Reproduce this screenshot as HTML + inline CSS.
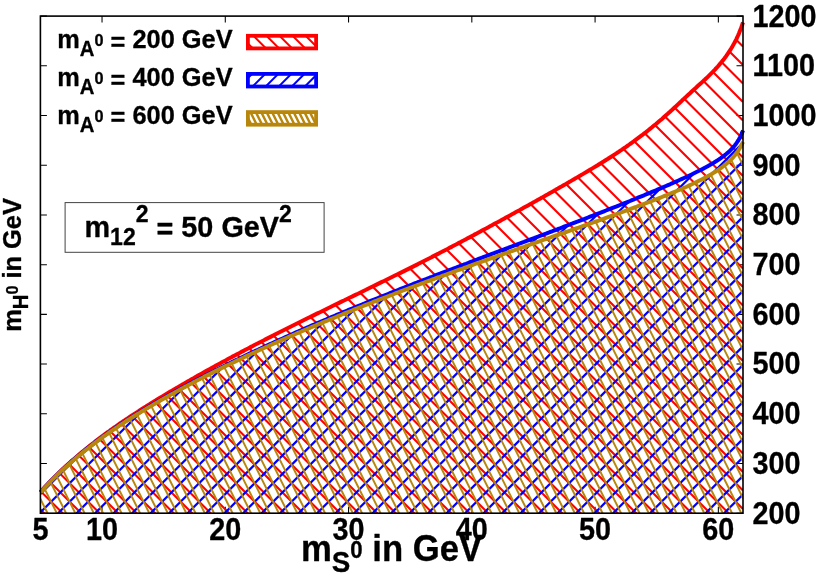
<!DOCTYPE html>
<html><head><meta charset="utf-8"><title>plot</title>
<style>
html,body{margin:0;padding:0;background:#fff;}
svg{display:block}
text{font-family:"Liberation Sans",sans-serif;font-weight:bold;fill:#000;stroke:#000;stroke-width:0.3px;stroke-linejoin:round}
</style></head><body>
<svg width="830" height="581" viewBox="0 0 830 581" style="will-change:transform">
<rect width="830" height="581" fill="#fff"/>
<defs>
<clipPath id="cred"><path d="M40.4,492.1 L42.0,490.3 L44.0,488.1 L46.0,485.9 L48.0,483.8 L50.0,481.7 L52.0,479.6 L54.0,477.6 L56.0,475.6 L58.0,473.6 L60.0,471.7 L62.0,469.8 L64.0,467.9 L66.0,466.0 L68.0,464.2 L70.0,462.4 L72.0,460.6 L74.0,458.9 L76.0,457.2 L78.0,455.5 L80.0,453.8 L82.0,452.1 L84.0,450.5 L86.0,448.8 L88.0,447.2 L90.0,445.6 L92.0,444.0 L94.0,442.5 L96.0,440.9 L98.0,439.4 L100.0,437.9 L102.0,436.4 L104.0,434.9 L106.0,433.4 L108.0,432.0 L110.0,430.5 L112.0,429.1 L114.0,427.7 L116.0,426.3 L118.0,424.9 L120.0,423.5 L122.0,422.1 L124.0,420.8 L126.0,419.4 L128.0,418.1 L130.0,416.8 L132.0,415.5 L134.0,414.2 L136.0,412.9 L138.0,411.6 L140.0,410.3 L142.0,409.0 L144.0,407.7 L146.0,406.5 L148.0,405.2 L150.0,404.0 L152.0,402.7 L154.0,401.5 L156.0,400.3 L158.0,399.0 L160.0,397.8 L162.0,396.6 L164.0,395.4 L166.0,394.2 L168.0,393.0 L170.0,391.8 L172.0,390.6 L174.0,389.4 L176.0,388.3 L178.0,387.1 L180.0,385.9 L182.0,384.8 L184.0,383.6 L186.0,382.4 L188.0,381.3 L190.0,380.2 L192.0,379.0 L194.0,377.9 L196.0,376.7 L198.0,375.6 L200.0,374.5 L202.0,373.4 L204.0,372.2 L206.0,371.1 L208.0,370.0 L210.0,368.9 L212.0,367.8 L214.0,366.7 L216.0,365.6 L218.0,364.5 L220.0,363.4 L222.0,362.3 L224.0,361.2 L226.0,360.2 L228.0,359.1 L230.0,358.0 L232.0,356.9 L234.0,355.9 L236.0,354.8 L238.0,353.7 L240.0,352.7 L242.0,351.6 L244.0,350.6 L246.0,349.5 L248.0,348.5 L250.0,347.4 L252.0,346.4 L254.0,345.3 L256.0,344.3 L258.0,343.3 L260.0,342.2 L262.0,341.2 L264.0,340.2 L266.0,339.1 L268.0,338.1 L270.0,337.1 L272.0,336.1 L274.0,335.1 L276.0,334.0 L278.0,333.0 L280.0,332.0 L282.0,331.0 L284.0,330.0 L286.0,329.0 L288.0,328.0 L290.0,327.0 L292.0,326.0 L294.0,325.0 L296.0,324.0 L298.0,323.0 L300.0,322.0 L302.0,321.0 L304.0,320.0 L306.0,319.0 L308.0,318.0 L310.0,317.1 L312.0,316.1 L314.0,315.1 L316.0,314.1 L318.0,313.1 L320.0,312.2 L322.0,311.2 L324.0,310.2 L326.0,309.2 L328.0,308.2 L330.0,307.3 L332.0,306.3 L334.0,305.3 L336.0,304.3 L338.0,303.4 L340.0,302.4 L342.0,301.4 L344.0,300.5 L346.0,299.5 L348.0,298.5 L350.0,297.5 L352.0,296.6 L354.0,295.6 L356.0,294.6 L358.0,293.7 L360.0,292.7 L362.0,291.7 L364.0,290.7 L366.0,289.8 L368.0,288.8 L370.0,287.8 L372.0,286.8 L374.0,285.9 L376.0,284.9 L378.0,283.9 L380.0,282.9 L382.0,281.9 L384.0,281.0 L386.0,280.0 L388.0,279.0 L390.0,278.0 L392.0,277.0 L394.0,276.0 L396.0,275.0 L398.0,274.1 L400.0,273.1 L402.0,272.1 L404.0,271.1 L406.0,270.1 L408.0,269.1 L410.0,268.1 L412.0,267.1 L414.0,266.1 L416.0,265.1 L418.0,264.1 L420.0,263.0 L422.0,262.0 L424.0,261.0 L426.0,260.0 L428.0,259.0 L430.0,258.0 L432.0,256.9 L434.0,255.9 L436.0,254.9 L438.0,253.9 L440.0,252.8 L442.0,251.8 L444.0,250.7 L446.0,249.7 L448.0,248.7 L450.0,247.6 L452.0,246.6 L454.0,245.5 L456.0,244.5 L458.0,243.4 L460.0,242.4 L462.0,241.3 L464.0,240.3 L466.0,239.2 L468.0,238.1 L470.0,237.1 L472.0,236.0 L474.0,234.9 L476.0,233.9 L478.0,232.8 L480.0,231.7 L482.0,230.6 L484.0,229.5 L486.0,228.5 L488.0,227.4 L490.0,226.3 L492.0,225.2 L494.0,224.1 L496.0,223.0 L498.0,222.0 L500.0,220.9 L502.0,219.8 L504.0,218.7 L506.0,217.6 L508.0,216.5 L510.0,215.4 L512.0,214.3 L514.0,213.2 L516.0,212.1 L518.0,211.0 L520.0,209.9 L522.0,208.7 L524.0,207.6 L526.0,206.5 L528.0,205.4 L530.0,204.3 L532.0,203.2 L534.0,202.1 L536.0,200.9 L538.0,199.8 L540.0,198.7 L542.0,197.6 L544.0,196.4 L546.0,195.3 L548.0,194.2 L550.0,193.0 L552.0,191.9 L554.0,190.8 L556.0,189.6 L558.0,188.5 L560.0,187.3 L562.0,186.2 L564.0,185.0 L566.0,183.9 L568.0,182.7 L570.0,181.6 L572.0,180.4 L574.0,179.2 L576.0,178.1 L578.0,176.9 L580.0,175.7 L582.0,174.6 L584.0,173.4 L586.0,172.2 L588.0,171.0 L590.0,169.8 L592.0,168.6 L594.0,167.4 L596.0,166.2 L598.0,165.0 L600.0,163.7 L602.0,162.5 L604.0,161.3 L606.0,160.0 L608.0,158.8 L610.0,157.5 L612.0,156.2 L614.0,154.9 L616.0,153.6 L618.0,152.3 L620.0,150.9 L622.0,149.6 L624.0,148.2 L626.0,146.9 L628.0,145.5 L630.0,144.0 L632.0,142.6 L634.0,141.2 L636.0,139.7 L638.0,138.2 L640.0,136.7 L642.0,135.2 L644.0,133.6 L646.0,132.1 L648.0,130.5 L650.0,128.9 L652.0,127.3 L654.0,125.6 L656.0,124.0 L658.0,122.3 L660.0,120.6 L662.0,118.9 L664.0,117.1 L666.0,115.3 L668.0,113.6 L670.0,111.8 L672.0,109.9 L674.0,108.1 L676.0,106.3 L678.0,104.4 L680.0,102.5 L682.0,100.6 L684.0,98.8 L686.0,96.9 L688.0,95.0 L690.0,93.2 L692.0,91.3 L694.0,89.5 L696.0,87.7 L698.0,85.8 L700.0,84.0 L700.5,83.6 L701.0,83.1 L701.5,82.7 L702.0,82.2 L702.5,81.8 L703.0,81.3 L703.5,80.8 L704.0,80.4 L704.5,79.9 L705.0,79.5 L705.5,79.0 L706.0,78.5 L706.5,78.1 L707.0,77.6 L707.5,77.1 L708.0,76.7 L708.5,76.2 L709.0,75.7 L709.5,75.2 L710.0,74.7 L710.5,74.2 L711.0,73.7 L711.5,73.2 L712.0,72.7 L712.5,72.2 L713.0,71.7 L713.5,71.2 L714.0,70.6 L714.5,70.1 L715.0,69.6 L715.5,69.0 L716.0,68.5 L716.5,67.9 L717.0,67.4 L717.5,66.8 L718.0,66.3 L718.5,65.7 L719.0,65.1 L719.5,64.5 L720.0,63.9 L720.5,63.3 L721.0,62.7 L721.5,62.1 L722.0,61.5 L722.5,60.9 L723.0,60.3 L723.5,59.6 L724.0,59.0 L724.5,58.3 L725.0,57.6 L725.5,57.0 L726.0,56.3 L726.5,55.6 L727.0,54.9 L727.5,54.2 L728.0,53.4 L728.5,52.7 L729.0,51.9 L729.5,51.2 L730.0,50.4 L730.5,49.6 L731.0,48.8 L731.5,48.0 L732.0,47.1 L732.5,46.3 L733.0,45.4 L733.5,44.5 L734.0,43.6 L734.5,42.7 L735.0,41.8 L735.5,40.8 L736.0,39.8 L736.5,38.8 L737.0,37.7 L737.5,36.7 L738.0,35.6 L738.5,34.4 L739.0,33.3 L739.5,32.1 L740.0,30.8 L740.5,29.5 L741.0,28.2 L741.5,26.8 L742.0,25.4 L742.5,23.9 L743.0,22.4 L743.0,513.2 L40.4,513.2Z"/></clipPath>
<clipPath id="cblue"><path d="M40.4,492.3 L42.0,490.5 L44.0,488.3 L46.0,486.2 L48.0,484.0 L50.0,482.0 L52.0,479.9 L54.0,477.9 L56.0,475.9 L58.0,474.0 L60.0,472.0 L62.0,470.2 L64.0,468.3 L66.0,466.5 L68.0,464.7 L70.0,462.9 L72.0,461.1 L74.0,459.4 L76.0,457.7 L78.0,456.0 L80.0,454.4 L82.0,452.7 L84.0,451.1 L86.0,449.5 L88.0,447.9 L90.0,446.3 L92.0,444.8 L94.0,443.3 L96.0,441.7 L98.0,440.2 L100.0,438.8 L102.0,437.3 L104.0,435.9 L106.0,434.4 L108.0,433.0 L110.0,431.6 L112.0,430.2 L114.0,428.8 L116.0,427.5 L118.0,426.1 L120.0,424.8 L122.0,423.5 L124.0,422.1 L126.0,420.8 L128.0,419.6 L130.0,418.3 L132.0,417.0 L134.0,415.8 L136.0,414.5 L138.0,413.3 L140.0,412.0 L142.0,410.8 L144.0,409.6 L146.0,408.4 L148.0,407.2 L150.0,406.0 L152.0,404.8 L154.0,403.6 L156.0,402.5 L158.0,401.3 L160.0,400.2 L162.0,399.0 L164.0,397.9 L166.0,396.7 L168.0,395.6 L170.0,394.5 L172.0,393.3 L174.0,392.2 L176.0,391.1 L178.0,390.0 L180.0,388.9 L182.0,387.8 L184.0,386.7 L186.0,385.7 L188.0,384.6 L190.0,383.5 L192.0,382.4 L194.0,381.4 L196.0,380.3 L198.0,379.3 L200.0,378.2 L202.0,377.2 L204.0,376.2 L206.0,375.1 L208.0,374.1 L210.0,373.1 L212.0,372.1 L214.0,371.0 L216.0,370.0 L218.0,369.0 L220.0,368.0 L222.0,367.0 L224.0,366.0 L226.0,365.0 L228.0,364.0 L230.0,363.1 L232.0,362.1 L234.0,361.1 L236.0,360.1 L238.0,359.2 L240.0,358.2 L242.0,357.2 L244.0,356.3 L246.0,355.3 L248.0,354.4 L250.0,353.4 L252.0,352.5 L254.0,351.5 L256.0,350.6 L258.0,349.7 L260.0,348.7 L262.0,347.8 L264.0,346.9 L266.0,346.0 L268.0,345.0 L270.0,344.1 L272.0,343.2 L274.0,342.3 L276.0,341.4 L278.0,340.5 L280.0,339.6 L282.0,338.7 L284.0,337.8 L286.0,336.9 L288.0,336.0 L290.0,335.1 L292.0,334.2 L294.0,333.3 L296.0,332.4 L298.0,331.5 L300.0,330.7 L302.0,329.8 L304.0,328.9 L306.0,328.0 L308.0,327.2 L310.0,326.3 L312.0,325.4 L314.0,324.6 L316.0,323.7 L318.0,322.9 L320.0,322.0 L322.0,321.2 L324.0,320.3 L326.0,319.5 L328.0,318.6 L330.0,317.8 L332.0,316.9 L334.0,316.1 L336.0,315.2 L338.0,314.4 L340.0,313.6 L342.0,312.7 L344.0,311.9 L346.0,311.1 L348.0,310.2 L350.0,309.4 L352.0,308.6 L354.0,307.7 L356.0,306.9 L358.0,306.1 L360.0,305.3 L362.0,304.5 L364.0,303.7 L366.0,302.8 L368.0,302.0 L370.0,301.2 L372.0,300.4 L374.0,299.6 L376.0,298.8 L378.0,298.0 L380.0,297.2 L382.0,296.4 L384.0,295.6 L386.0,294.8 L388.0,294.0 L390.0,293.2 L392.0,292.4 L394.0,291.6 L396.0,290.8 L398.0,290.0 L400.0,289.2 L402.0,288.4 L404.0,287.7 L406.0,286.9 L408.0,286.1 L410.0,285.3 L412.0,284.5 L414.0,283.7 L416.0,283.0 L418.0,282.2 L420.0,281.4 L422.0,280.6 L424.0,279.8 L426.0,279.1 L428.0,278.3 L430.0,277.5 L432.0,276.8 L434.0,276.0 L436.0,275.2 L438.0,274.4 L440.0,273.7 L442.0,272.9 L444.0,272.1 L446.0,271.4 L448.0,270.6 L450.0,269.8 L452.0,269.1 L454.0,268.3 L456.0,267.6 L458.0,266.8 L460.0,266.0 L462.0,265.3 L464.0,264.5 L466.0,263.8 L468.0,263.0 L470.0,262.2 L472.0,261.5 L474.0,260.7 L476.0,260.0 L478.0,259.2 L480.0,258.4 L482.0,257.7 L484.0,256.9 L486.0,256.2 L488.0,255.4 L490.0,254.7 L492.0,253.9 L494.0,253.2 L496.0,252.4 L498.0,251.7 L500.0,250.9 L502.0,250.1 L504.0,249.4 L506.0,248.6 L508.0,247.9 L510.0,247.1 L512.0,246.4 L514.0,245.6 L516.0,244.9 L518.0,244.1 L520.0,243.4 L522.0,242.6 L524.0,241.9 L526.0,241.1 L528.0,240.4 L530.0,239.6 L532.0,238.8 L534.0,238.1 L536.0,237.3 L538.0,236.6 L540.0,235.8 L542.0,235.1 L544.0,234.3 L546.0,233.6 L548.0,232.8 L550.0,232.0 L552.0,231.3 L554.0,230.5 L556.0,229.8 L558.0,229.0 L560.0,228.3 L562.0,227.5 L564.0,226.7 L566.0,226.0 L568.0,225.2 L570.0,224.4 L572.0,223.7 L574.0,222.9 L576.0,222.1 L578.0,221.4 L580.0,220.6 L582.0,219.8 L584.0,219.1 L586.0,218.3 L588.0,217.5 L590.0,216.7 L592.0,216.0 L594.0,215.2 L596.0,214.4 L598.0,213.6 L600.0,212.9 L602.0,212.1 L604.0,211.3 L606.0,210.5 L608.0,209.7 L610.0,208.9 L612.0,208.1 L614.0,207.3 L616.0,206.6 L618.0,205.8 L620.0,205.0 L622.0,204.2 L624.0,203.4 L626.0,202.6 L628.0,201.8 L630.0,201.0 L632.0,200.1 L634.0,199.3 L636.0,198.5 L638.0,197.7 L640.0,196.9 L642.0,196.1 L644.0,195.3 L646.0,194.4 L648.0,193.6 L650.0,192.8 L652.0,191.9 L654.0,191.1 L656.0,190.3 L658.0,189.4 L660.0,188.6 L662.0,187.7 L664.0,186.9 L666.0,186.0 L668.0,185.1 L670.0,184.3 L672.0,183.4 L674.0,182.5 L676.0,181.6 L678.0,180.7 L680.0,179.8 L682.0,178.9 L684.0,178.0 L686.0,177.1 L688.0,176.2 L690.0,175.2 L692.0,174.3 L694.0,173.3 L696.0,172.3 L698.0,171.3 L700.0,170.3 L700.5,170.1 L701.0,169.8 L701.5,169.5 L702.0,169.3 L702.5,169.0 L703.0,168.8 L703.5,168.5 L704.0,168.2 L704.5,168.0 L705.0,167.7 L705.5,167.4 L706.0,167.2 L706.5,166.9 L707.0,166.6 L707.5,166.3 L708.0,166.1 L708.5,165.8 L709.0,165.5 L709.5,165.2 L710.0,164.9 L710.5,164.6 L711.0,164.4 L711.5,164.1 L712.0,163.8 L712.5,163.5 L713.0,163.2 L713.5,162.9 L714.0,162.6 L714.5,162.3 L715.0,162.0 L715.5,161.6 L716.0,161.3 L716.5,161.0 L717.0,160.7 L717.5,160.4 L718.0,160.0 L718.5,159.7 L719.0,159.4 L719.5,159.0 L720.0,158.7 L720.5,158.4 L721.0,158.0 L721.5,157.6 L722.0,157.3 L722.5,156.9 L723.0,156.5 L723.5,156.2 L724.0,155.8 L724.5,155.4 L725.0,155.0 L725.5,154.6 L726.0,154.2 L726.5,153.8 L727.0,153.4 L727.5,152.9 L728.0,152.5 L728.5,152.1 L729.0,151.6 L729.5,151.1 L730.0,150.7 L730.5,150.2 L731.0,149.7 L731.5,149.2 L732.0,148.6 L732.5,148.1 L733.0,147.5 L733.5,147.0 L734.0,146.4 L734.5,145.8 L735.0,145.2 L735.5,144.5 L736.0,143.8 L736.5,143.1 L737.0,142.4 L737.5,141.7 L738.0,140.9 L738.5,140.1 L739.0,139.2 L739.5,138.3 L740.0,137.4 L740.5,136.4 L741.0,135.4 L741.5,134.2 L742.0,133.1 L742.5,131.8 L743.0,130.4 L743.0,513.2 L40.4,513.2Z"/></clipPath>
<clipPath id="cgold"><path d="M40.4,492.5 L42.0,490.8 L44.0,488.6 L46.0,486.4 L48.0,484.3 L50.0,482.2 L52.0,480.2 L54.0,478.1 L56.0,476.2 L58.0,474.2 L60.0,472.3 L62.0,470.4 L64.0,468.6 L66.0,466.7 L68.0,465.0 L70.0,463.2 L72.0,461.4 L74.0,459.7 L76.0,458.0 L78.0,456.3 L80.0,454.7 L82.0,453.0 L84.0,451.4 L86.0,449.8 L88.0,448.3 L90.0,446.7 L92.0,445.1 L94.0,443.6 L96.0,442.1 L98.0,440.6 L100.0,439.1 L102.0,437.7 L104.0,436.2 L106.0,434.8 L108.0,433.4 L110.0,432.0 L112.0,430.6 L114.0,429.3 L116.0,427.9 L118.0,426.6 L120.0,425.2 L122.0,423.9 L124.0,422.6 L126.0,421.3 L128.0,420.0 L130.0,418.8 L132.0,417.5 L134.0,416.2 L136.0,415.0 L138.0,413.8 L140.0,412.6 L142.0,411.3 L144.0,410.1 L146.0,408.9 L148.0,407.7 L150.0,406.6 L152.0,405.4 L154.0,404.2 L156.0,403.1 L158.0,401.9 L160.0,400.7 L162.0,399.6 L164.0,398.5 L166.0,397.3 L168.0,396.2 L170.0,395.1 L172.0,394.0 L174.0,392.9 L176.0,391.8 L178.0,390.7 L180.0,389.6 L182.0,388.5 L184.0,387.4 L186.0,386.4 L188.0,385.3 L190.0,384.2 L192.0,383.2 L194.0,382.1 L196.0,381.1 L198.0,380.0 L200.0,379.0 L202.0,378.0 L204.0,376.9 L206.0,375.9 L208.0,374.9 L210.0,373.9 L212.0,372.9 L214.0,371.9 L216.0,370.9 L218.0,369.9 L220.0,368.9 L222.0,367.9 L224.0,366.9 L226.0,365.9 L228.0,365.0 L230.0,364.0 L232.0,363.0 L234.0,362.1 L236.0,361.1 L238.0,360.1 L240.0,359.2 L242.0,358.2 L244.0,357.3 L246.0,356.3 L248.0,355.4 L250.0,354.5 L252.0,353.5 L254.0,352.6 L256.0,351.7 L258.0,350.8 L260.0,349.8 L262.0,348.9 L264.0,348.0 L266.0,347.1 L268.0,346.2 L270.0,345.3 L272.0,344.4 L274.0,343.5 L276.0,342.6 L278.0,341.7 L280.0,340.8 L282.0,339.9 L284.0,339.0 L286.0,338.2 L288.0,337.3 L290.0,336.4 L292.0,335.5 L294.0,334.7 L296.0,333.8 L298.0,332.9 L300.0,332.1 L302.0,331.2 L304.0,330.4 L306.0,329.5 L308.0,328.6 L310.0,327.8 L312.0,326.9 L314.0,326.1 L316.0,325.3 L318.0,324.4 L320.0,323.6 L322.0,322.7 L324.0,321.9 L326.0,321.1 L328.0,320.3 L330.0,319.4 L332.0,318.6 L334.0,317.8 L336.0,317.0 L338.0,316.1 L340.0,315.3 L342.0,314.5 L344.0,313.7 L346.0,312.9 L348.0,312.1 L350.0,311.3 L352.0,310.5 L354.0,309.7 L356.0,308.9 L358.0,308.1 L360.0,307.3 L362.0,306.5 L364.0,305.7 L366.0,304.9 L368.0,304.1 L370.0,303.3 L372.0,302.5 L374.0,301.7 L376.0,301.0 L378.0,300.2 L380.0,299.4 L382.0,298.6 L384.0,297.8 L386.0,297.1 L388.0,296.3 L390.0,295.5 L392.0,294.8 L394.0,294.0 L396.0,293.2 L398.0,292.5 L400.0,291.7 L402.0,290.9 L404.0,290.2 L406.0,289.4 L408.0,288.7 L410.0,287.9 L412.0,287.2 L414.0,286.4 L416.0,285.7 L418.0,284.9 L420.0,284.2 L422.0,283.4 L424.0,282.7 L426.0,281.9 L428.0,281.2 L430.0,280.5 L432.0,279.7 L434.0,279.0 L436.0,278.2 L438.0,277.5 L440.0,276.8 L442.0,276.0 L444.0,275.3 L446.0,274.6 L448.0,273.8 L450.0,273.1 L452.0,272.4 L454.0,271.7 L456.0,270.9 L458.0,270.2 L460.0,269.5 L462.0,268.8 L464.0,268.0 L466.0,267.3 L468.0,266.6 L470.0,265.9 L472.0,265.2 L474.0,264.4 L476.0,263.7 L478.0,263.0 L480.0,262.3 L482.0,261.6 L484.0,260.9 L486.0,260.2 L488.0,259.5 L490.0,258.7 L492.0,258.0 L494.0,257.3 L496.0,256.6 L498.0,255.9 L500.0,255.2 L502.0,254.5 L504.0,253.8 L506.0,253.1 L508.0,252.4 L510.0,251.7 L512.0,251.0 L514.0,250.3 L516.0,249.6 L518.0,248.9 L520.0,248.2 L522.0,247.5 L524.0,246.8 L526.0,246.0 L528.0,245.3 L530.0,244.6 L532.0,243.9 L534.0,243.2 L536.0,242.5 L538.0,241.8 L540.0,241.1 L542.0,240.4 L544.0,239.7 L546.0,239.0 L548.0,238.3 L550.0,237.6 L552.0,236.9 L554.0,236.2 L556.0,235.5 L558.0,234.8 L560.0,234.1 L562.0,233.4 L564.0,232.7 L566.0,232.0 L568.0,231.3 L570.0,230.6 L572.0,229.9 L574.0,229.2 L576.0,228.5 L578.0,227.8 L580.0,227.1 L582.0,226.4 L584.0,225.7 L586.0,225.0 L588.0,224.3 L590.0,223.6 L592.0,222.9 L594.0,222.2 L596.0,221.5 L598.0,220.8 L600.0,220.0 L602.0,219.3 L604.0,218.6 L606.0,217.9 L608.0,217.2 L610.0,216.5 L612.0,215.7 L614.0,215.0 L616.0,214.3 L618.0,213.6 L620.0,212.8 L622.0,212.1 L624.0,211.4 L626.0,210.7 L628.0,209.9 L630.0,209.2 L632.0,208.4 L634.0,207.7 L636.0,207.0 L638.0,206.2 L640.0,205.5 L642.0,204.7 L644.0,204.0 L646.0,203.2 L648.0,202.4 L650.0,201.7 L652.0,200.9 L654.0,200.1 L656.0,199.4 L658.0,198.6 L660.0,197.8 L662.0,197.0 L664.0,196.2 L666.0,195.4 L668.0,194.6 L670.0,193.8 L672.0,192.9 L674.0,192.1 L676.0,191.3 L678.0,190.4 L680.0,189.6 L682.0,188.7 L684.0,187.8 L686.0,187.0 L688.0,186.1 L690.0,185.1 L692.0,184.2 L694.0,183.3 L696.0,182.3 L698.0,181.3 L700.0,180.3 L700.5,180.1 L701.0,179.8 L701.5,179.6 L702.0,179.3 L702.5,179.1 L703.0,178.8 L703.5,178.5 L704.0,178.3 L704.5,178.0 L705.0,177.7 L705.5,177.5 L706.0,177.2 L706.5,176.9 L707.0,176.7 L707.5,176.4 L708.0,176.1 L708.5,175.8 L709.0,175.6 L709.5,175.3 L710.0,175.0 L710.5,174.7 L711.0,174.4 L711.5,174.1 L712.0,173.8 L712.5,173.5 L713.0,173.2 L713.5,172.9 L714.0,172.6 L714.5,172.3 L715.0,172.0 L715.5,171.7 L716.0,171.3 L716.5,171.0 L717.0,170.7 L717.5,170.4 L718.0,170.0 L718.5,169.7 L719.0,169.4 L719.5,169.0 L720.0,168.7 L720.5,168.3 L721.0,168.0 L721.5,167.6 L722.0,167.2 L722.5,166.9 L723.0,166.5 L723.5,166.1 L724.0,165.7 L724.5,165.3 L725.0,164.9 L725.5,164.5 L726.0,164.1 L726.5,163.7 L727.0,163.3 L727.5,162.8 L728.0,162.4 L728.5,161.9 L729.0,161.5 L729.5,161.0 L730.0,160.5 L730.5,160.1 L731.0,159.6 L731.5,159.1 L732.0,158.5 L732.5,158.0 L733.0,157.5 L733.5,156.9 L734.0,156.3 L734.5,155.7 L735.0,155.1 L735.5,154.5 L736.0,153.9 L736.5,153.2 L737.0,152.5 L737.5,151.8 L738.0,151.1 L738.5,150.3 L739.0,149.5 L739.5,148.7 L740.0,147.9 L740.5,147.0 L741.0,146.0 L741.5,145.0 L742.0,144.0 L742.5,142.9 L743.0,141.8 L743.0,513.2 L40.4,513.2Z"/></clipPath>
</defs>
<path d="M102.03,513.2v-6.5M102.03,16.1v6.5M225.29,513.2v-6.5M225.29,16.1v6.5M348.56,513.2v-6.5M348.56,16.1v6.5M471.82,513.2v-6.5M471.82,16.1v6.5M595.08,513.2v-6.5M595.08,16.1v6.5M718.35,513.2v-6.5M718.35,16.1v6.5M40.4,513.20h6.5M743.0,513.20h-6.5M40.4,463.49h6.5M743.0,463.49h-6.5M40.4,413.78h6.5M743.0,413.78h-6.5M40.4,364.07h6.5M743.0,364.07h-6.5M40.4,314.36h6.5M743.0,314.36h-6.5M40.4,264.65h6.5M743.0,264.65h-6.5M40.4,214.94h6.5M743.0,214.94h-6.5M40.4,165.23h6.5M743.0,165.23h-6.5M40.4,115.52h6.5M743.0,115.52h-6.5M40.4,65.81h6.5M743.0,65.81h-6.5M40.4,16.10h6.5M743.0,16.10h-6.5" stroke="#000" stroke-width="1.05" fill="none"/>
<g clip-path="url(#cred)"><path d="M40.40,-693.08L743.00,9.52M40.40,-674.58L743.00,28.02M40.40,-656.08L743.00,46.52M40.40,-637.58L743.00,65.02M40.40,-619.08L743.00,83.52M40.40,-600.58L743.00,102.02M40.40,-582.08L743.00,120.52M40.40,-563.58L743.00,139.02M40.40,-545.08L743.00,157.52M40.40,-526.58L743.00,176.02M40.40,-508.08L743.00,194.52M40.40,-489.58L743.00,213.02M40.40,-471.08L743.00,231.52M40.40,-452.58L743.00,250.02M40.40,-434.08L743.00,268.52M40.40,-415.58L743.00,287.02M40.40,-397.08L743.00,305.52M40.40,-378.58L743.00,324.02M40.40,-360.08L743.00,342.52M40.40,-341.58L743.00,361.02M40.40,-323.08L743.00,379.52M40.40,-304.58L743.00,398.02M40.40,-286.08L743.00,416.52M40.40,-267.58L743.00,435.02M40.40,-249.08L743.00,453.52M40.40,-230.58L743.00,472.02M40.40,-212.08L743.00,490.52M40.40,-193.58L743.00,509.02M40.40,-175.08L743.00,527.52M40.40,-156.58L743.00,546.02M40.40,-138.08L743.00,564.52M40.40,-119.58L743.00,583.02M40.40,-101.08L743.00,601.52M40.40,-82.58L743.00,620.02M40.40,-64.08L743.00,638.52M40.40,-45.58L743.00,657.02M40.40,-27.08L743.00,675.52M40.40,-8.58L743.00,694.02M40.40,9.92L743.00,712.52M40.40,28.42L743.00,731.02M40.40,46.92L743.00,749.52M40.40,65.42L743.00,768.02M40.40,83.92L743.00,786.52M40.40,102.42L743.00,805.02M40.40,120.92L743.00,823.52M40.40,139.42L743.00,842.02M40.40,157.92L743.00,860.52M40.40,176.42L743.00,879.02M40.40,194.92L743.00,897.52M40.40,213.42L743.00,916.02M40.40,231.92L743.00,934.52M40.40,250.42L743.00,953.02M40.40,268.92L743.00,971.52M40.40,287.42L743.00,990.02M40.40,305.92L743.00,1008.52M40.40,324.42L743.00,1027.02M40.40,342.92L743.00,1045.52M40.40,361.42L743.00,1064.02M40.40,379.92L743.00,1082.52M40.40,398.42L743.00,1101.02M40.40,416.92L743.00,1119.52M40.40,435.42L743.00,1138.02M40.40,453.92L743.00,1156.52M40.40,472.42L743.00,1175.02M40.40,490.92L743.00,1193.52M40.40,509.42L743.00,1212.02M40.40,527.92L743.00,1230.52" stroke="#ff0000" stroke-width="2.1" fill="none"/></g>
<path d="M40.4,492.1 L42.0,490.3 L44.0,488.1 L46.0,485.9 L48.0,483.8 L50.0,481.7 L52.0,479.6 L54.0,477.6 L56.0,475.6 L58.0,473.6 L60.0,471.7 L62.0,469.8 L64.0,467.9 L66.0,466.0 L68.0,464.2 L70.0,462.4 L72.0,460.6 L74.0,458.9 L76.0,457.2 L78.0,455.5 L80.0,453.8 L82.0,452.1 L84.0,450.5 L86.0,448.8 L88.0,447.2 L90.0,445.6 L92.0,444.0 L94.0,442.5 L96.0,440.9 L98.0,439.4 L100.0,437.9 L102.0,436.4 L104.0,434.9 L106.0,433.4 L108.0,432.0 L110.0,430.5 L112.0,429.1 L114.0,427.7 L116.0,426.3 L118.0,424.9 L120.0,423.5 L122.0,422.1 L124.0,420.8 L126.0,419.4 L128.0,418.1 L130.0,416.8 L132.0,415.5 L134.0,414.2 L136.0,412.9 L138.0,411.6 L140.0,410.3 L142.0,409.0 L144.0,407.7 L146.0,406.5 L148.0,405.2 L150.0,404.0 L152.0,402.7 L154.0,401.5 L156.0,400.3 L158.0,399.0 L160.0,397.8 L162.0,396.6 L164.0,395.4 L166.0,394.2 L168.0,393.0 L170.0,391.8 L172.0,390.6 L174.0,389.4 L176.0,388.3 L178.0,387.1 L180.0,385.9 L182.0,384.8 L184.0,383.6 L186.0,382.4 L188.0,381.3 L190.0,380.2 L192.0,379.0 L194.0,377.9 L196.0,376.7 L198.0,375.6 L200.0,374.5 L202.0,373.4 L204.0,372.2 L206.0,371.1 L208.0,370.0 L210.0,368.9 L212.0,367.8 L214.0,366.7 L216.0,365.6 L218.0,364.5 L220.0,363.4 L222.0,362.3 L224.0,361.2 L226.0,360.2 L228.0,359.1 L230.0,358.0 L232.0,356.9 L234.0,355.9 L236.0,354.8 L238.0,353.7 L240.0,352.7 L242.0,351.6 L244.0,350.6 L246.0,349.5 L248.0,348.5 L250.0,347.4 L252.0,346.4 L254.0,345.3 L256.0,344.3 L258.0,343.3 L260.0,342.2 L262.0,341.2 L264.0,340.2 L266.0,339.1 L268.0,338.1 L270.0,337.1 L272.0,336.1 L274.0,335.1 L276.0,334.0 L278.0,333.0 L280.0,332.0 L282.0,331.0 L284.0,330.0 L286.0,329.0 L288.0,328.0 L290.0,327.0 L292.0,326.0 L294.0,325.0 L296.0,324.0 L298.0,323.0 L300.0,322.0 L302.0,321.0 L304.0,320.0 L306.0,319.0 L308.0,318.0 L310.0,317.1 L312.0,316.1 L314.0,315.1 L316.0,314.1 L318.0,313.1 L320.0,312.2 L322.0,311.2 L324.0,310.2 L326.0,309.2 L328.0,308.2 L330.0,307.3 L332.0,306.3 L334.0,305.3 L336.0,304.3 L338.0,303.4 L340.0,302.4 L342.0,301.4 L344.0,300.5 L346.0,299.5 L348.0,298.5 L350.0,297.5 L352.0,296.6 L354.0,295.6 L356.0,294.6 L358.0,293.7 L360.0,292.7 L362.0,291.7 L364.0,290.7 L366.0,289.8 L368.0,288.8 L370.0,287.8 L372.0,286.8 L374.0,285.9 L376.0,284.9 L378.0,283.9 L380.0,282.9 L382.0,281.9 L384.0,281.0 L386.0,280.0 L388.0,279.0 L390.0,278.0 L392.0,277.0 L394.0,276.0 L396.0,275.0 L398.0,274.1 L400.0,273.1 L402.0,272.1 L404.0,271.1 L406.0,270.1 L408.0,269.1 L410.0,268.1 L412.0,267.1 L414.0,266.1 L416.0,265.1 L418.0,264.1 L420.0,263.0 L422.0,262.0 L424.0,261.0 L426.0,260.0 L428.0,259.0 L430.0,258.0 L432.0,256.9 L434.0,255.9 L436.0,254.9 L438.0,253.9 L440.0,252.8 L442.0,251.8 L444.0,250.7 L446.0,249.7 L448.0,248.7 L450.0,247.6 L452.0,246.6 L454.0,245.5 L456.0,244.5 L458.0,243.4 L460.0,242.4 L462.0,241.3 L464.0,240.3 L466.0,239.2 L468.0,238.1 L470.0,237.1 L472.0,236.0 L474.0,234.9 L476.0,233.9 L478.0,232.8 L480.0,231.7 L482.0,230.6 L484.0,229.5 L486.0,228.5 L488.0,227.4 L490.0,226.3 L492.0,225.2 L494.0,224.1 L496.0,223.0 L498.0,222.0 L500.0,220.9 L502.0,219.8 L504.0,218.7 L506.0,217.6 L508.0,216.5 L510.0,215.4 L512.0,214.3 L514.0,213.2 L516.0,212.1 L518.0,211.0 L520.0,209.9 L522.0,208.7 L524.0,207.6 L526.0,206.5 L528.0,205.4 L530.0,204.3 L532.0,203.2 L534.0,202.1 L536.0,200.9 L538.0,199.8 L540.0,198.7 L542.0,197.6 L544.0,196.4 L546.0,195.3 L548.0,194.2 L550.0,193.0 L552.0,191.9 L554.0,190.8 L556.0,189.6 L558.0,188.5 L560.0,187.3 L562.0,186.2 L564.0,185.0 L566.0,183.9 L568.0,182.7 L570.0,181.6 L572.0,180.4 L574.0,179.2 L576.0,178.1 L578.0,176.9 L580.0,175.7 L582.0,174.6 L584.0,173.4 L586.0,172.2 L588.0,171.0 L590.0,169.8 L592.0,168.6 L594.0,167.4 L596.0,166.2 L598.0,165.0 L600.0,163.7 L602.0,162.5 L604.0,161.3 L606.0,160.0 L608.0,158.8 L610.0,157.5 L612.0,156.2 L614.0,154.9 L616.0,153.6 L618.0,152.3 L620.0,150.9 L622.0,149.6 L624.0,148.2 L626.0,146.9 L628.0,145.5 L630.0,144.0 L632.0,142.6 L634.0,141.2 L636.0,139.7 L638.0,138.2 L640.0,136.7 L642.0,135.2 L644.0,133.6 L646.0,132.1 L648.0,130.5 L650.0,128.9 L652.0,127.3 L654.0,125.6 L656.0,124.0 L658.0,122.3 L660.0,120.6 L662.0,118.9 L664.0,117.1 L666.0,115.3 L668.0,113.6 L670.0,111.8 L672.0,109.9 L674.0,108.1 L676.0,106.3 L678.0,104.4 L680.0,102.5 L682.0,100.6 L684.0,98.8 L686.0,96.9 L688.0,95.0 L690.0,93.2 L692.0,91.3 L694.0,89.5 L696.0,87.7 L698.0,85.8 L700.0,84.0 L700.5,83.6 L701.0,83.1 L701.5,82.7 L702.0,82.2 L702.5,81.8 L703.0,81.3 L703.5,80.8 L704.0,80.4 L704.5,79.9 L705.0,79.5 L705.5,79.0 L706.0,78.5 L706.5,78.1 L707.0,77.6 L707.5,77.1 L708.0,76.7 L708.5,76.2 L709.0,75.7 L709.5,75.2 L710.0,74.7 L710.5,74.2 L711.0,73.7 L711.5,73.2 L712.0,72.7 L712.5,72.2 L713.0,71.7 L713.5,71.2 L714.0,70.6 L714.5,70.1 L715.0,69.6 L715.5,69.0 L716.0,68.5 L716.5,67.9 L717.0,67.4 L717.5,66.8 L718.0,66.3 L718.5,65.7 L719.0,65.1 L719.5,64.5 L720.0,63.9 L720.5,63.3 L721.0,62.7 L721.5,62.1 L722.0,61.5 L722.5,60.9 L723.0,60.3 L723.5,59.6 L724.0,59.0 L724.5,58.3 L725.0,57.6 L725.5,57.0 L726.0,56.3 L726.5,55.6 L727.0,54.9 L727.5,54.2 L728.0,53.4 L728.5,52.7 L729.0,51.9 L729.5,51.2 L730.0,50.4 L730.5,49.6 L731.0,48.8 L731.5,48.0 L732.0,47.1 L732.5,46.3 L733.0,45.4 L733.5,44.5 L734.0,43.6 L734.5,42.7 L735.0,41.8 L735.5,40.8 L736.0,39.8 L736.5,38.8 L737.0,37.7 L737.5,36.7 L738.0,35.6 L738.5,34.4 L739.0,33.3 L739.5,32.1 L740.0,30.8 L740.5,29.5 L741.0,28.2 L741.5,26.8 L742.0,25.4 L742.5,23.9 L743.0,22.4" stroke="#ff0000" stroke-width="4.0" fill="none" stroke-linejoin="round"/>
<g clip-path="url(#cblue)"><path d="M40.40,123.92L743.00,-578.68M40.40,142.42L743.00,-560.18M40.40,160.92L743.00,-541.68M40.40,179.42L743.00,-523.18M40.40,197.92L743.00,-504.68M40.40,216.42L743.00,-486.18M40.40,234.92L743.00,-467.68M40.40,253.42L743.00,-449.18M40.40,271.92L743.00,-430.68M40.40,290.42L743.00,-412.18M40.40,308.92L743.00,-393.68M40.40,327.42L743.00,-375.18M40.40,345.92L743.00,-356.68M40.40,364.42L743.00,-338.18M40.40,382.92L743.00,-319.68M40.40,401.42L743.00,-301.18M40.40,419.92L743.00,-282.68M40.40,438.42L743.00,-264.18M40.40,456.92L743.00,-245.68M40.40,475.42L743.00,-227.18M40.40,493.92L743.00,-208.68M40.40,512.42L743.00,-190.18M40.40,530.92L743.00,-171.68M40.40,549.42L743.00,-153.18M40.40,567.92L743.00,-134.68M40.40,586.42L743.00,-116.18M40.40,604.92L743.00,-97.68M40.40,623.42L743.00,-79.18M40.40,641.92L743.00,-60.68M40.40,660.42L743.00,-42.18M40.40,678.92L743.00,-23.68M40.40,697.42L743.00,-5.18M40.40,715.92L743.00,13.32M40.40,734.42L743.00,31.82M40.40,752.92L743.00,50.32M40.40,771.42L743.00,68.82M40.40,789.92L743.00,87.32M40.40,808.42L743.00,105.82M40.40,826.92L743.00,124.32M40.40,845.42L743.00,142.82M40.40,863.92L743.00,161.32M40.40,882.42L743.00,179.82M40.40,900.92L743.00,198.32M40.40,919.42L743.00,216.82M40.40,937.92L743.00,235.32M40.40,956.42L743.00,253.82M40.40,974.92L743.00,272.32M40.40,993.42L743.00,290.82M40.40,1011.92L743.00,309.32M40.40,1030.42L743.00,327.82M40.40,1048.92L743.00,346.32M40.40,1067.42L743.00,364.82M40.40,1085.92L743.00,383.32M40.40,1104.42L743.00,401.82M40.40,1122.92L743.00,420.32M40.40,1141.42L743.00,438.82M40.40,1159.92L743.00,457.32M40.40,1178.42L743.00,475.82M40.40,1196.92L743.00,494.32M40.40,1215.42L743.00,512.82M40.40,1233.92L743.00,531.32" stroke="#0000ff" stroke-width="2.2" fill="none"/></g>
<path d="M40.4,492.3 L42.0,490.5 L44.0,488.3 L46.0,486.2 L48.0,484.0 L50.0,482.0 L52.0,479.9 L54.0,477.9 L56.0,475.9 L58.0,474.0 L60.0,472.0 L62.0,470.2 L64.0,468.3 L66.0,466.5 L68.0,464.7 L70.0,462.9 L72.0,461.1 L74.0,459.4 L76.0,457.7 L78.0,456.0 L80.0,454.4 L82.0,452.7 L84.0,451.1 L86.0,449.5 L88.0,447.9 L90.0,446.3 L92.0,444.8 L94.0,443.3 L96.0,441.7 L98.0,440.2 L100.0,438.8 L102.0,437.3 L104.0,435.9 L106.0,434.4 L108.0,433.0 L110.0,431.6 L112.0,430.2 L114.0,428.8 L116.0,427.5 L118.0,426.1 L120.0,424.8 L122.0,423.5 L124.0,422.1 L126.0,420.8 L128.0,419.6 L130.0,418.3 L132.0,417.0 L134.0,415.8 L136.0,414.5 L138.0,413.3 L140.0,412.0 L142.0,410.8 L144.0,409.6 L146.0,408.4 L148.0,407.2 L150.0,406.0 L152.0,404.8 L154.0,403.6 L156.0,402.5 L158.0,401.3 L160.0,400.2 L162.0,399.0 L164.0,397.9 L166.0,396.7 L168.0,395.6 L170.0,394.5 L172.0,393.3 L174.0,392.2 L176.0,391.1 L178.0,390.0 L180.0,388.9 L182.0,387.8 L184.0,386.7 L186.0,385.7 L188.0,384.6 L190.0,383.5 L192.0,382.4 L194.0,381.4 L196.0,380.3 L198.0,379.3 L200.0,378.2 L202.0,377.2 L204.0,376.2 L206.0,375.1 L208.0,374.1 L210.0,373.1 L212.0,372.1 L214.0,371.0 L216.0,370.0 L218.0,369.0 L220.0,368.0 L222.0,367.0 L224.0,366.0 L226.0,365.0 L228.0,364.0 L230.0,363.1 L232.0,362.1 L234.0,361.1 L236.0,360.1 L238.0,359.2 L240.0,358.2 L242.0,357.2 L244.0,356.3 L246.0,355.3 L248.0,354.4 L250.0,353.4 L252.0,352.5 L254.0,351.5 L256.0,350.6 L258.0,349.7 L260.0,348.7 L262.0,347.8 L264.0,346.9 L266.0,346.0 L268.0,345.0 L270.0,344.1 L272.0,343.2 L274.0,342.3 L276.0,341.4 L278.0,340.5 L280.0,339.6 L282.0,338.7 L284.0,337.8 L286.0,336.9 L288.0,336.0 L290.0,335.1 L292.0,334.2 L294.0,333.3 L296.0,332.4 L298.0,331.5 L300.0,330.7 L302.0,329.8 L304.0,328.9 L306.0,328.0 L308.0,327.2 L310.0,326.3 L312.0,325.4 L314.0,324.6 L316.0,323.7 L318.0,322.9 L320.0,322.0 L322.0,321.2 L324.0,320.3 L326.0,319.5 L328.0,318.6 L330.0,317.8 L332.0,316.9 L334.0,316.1 L336.0,315.2 L338.0,314.4 L340.0,313.6 L342.0,312.7 L344.0,311.9 L346.0,311.1 L348.0,310.2 L350.0,309.4 L352.0,308.6 L354.0,307.7 L356.0,306.9 L358.0,306.1 L360.0,305.3 L362.0,304.5 L364.0,303.7 L366.0,302.8 L368.0,302.0 L370.0,301.2 L372.0,300.4 L374.0,299.6 L376.0,298.8 L378.0,298.0 L380.0,297.2 L382.0,296.4 L384.0,295.6 L386.0,294.8 L388.0,294.0 L390.0,293.2 L392.0,292.4 L394.0,291.6 L396.0,290.8 L398.0,290.0 L400.0,289.2 L402.0,288.4 L404.0,287.7 L406.0,286.9 L408.0,286.1 L410.0,285.3 L412.0,284.5 L414.0,283.7 L416.0,283.0 L418.0,282.2 L420.0,281.4 L422.0,280.6 L424.0,279.8 L426.0,279.1 L428.0,278.3 L430.0,277.5 L432.0,276.8 L434.0,276.0 L436.0,275.2 L438.0,274.4 L440.0,273.7 L442.0,272.9 L444.0,272.1 L446.0,271.4 L448.0,270.6 L450.0,269.8 L452.0,269.1 L454.0,268.3 L456.0,267.6 L458.0,266.8 L460.0,266.0 L462.0,265.3 L464.0,264.5 L466.0,263.8 L468.0,263.0 L470.0,262.2 L472.0,261.5 L474.0,260.7 L476.0,260.0 L478.0,259.2 L480.0,258.4 L482.0,257.7 L484.0,256.9 L486.0,256.2 L488.0,255.4 L490.0,254.7 L492.0,253.9 L494.0,253.2 L496.0,252.4 L498.0,251.7 L500.0,250.9 L502.0,250.1 L504.0,249.4 L506.0,248.6 L508.0,247.9 L510.0,247.1 L512.0,246.4 L514.0,245.6 L516.0,244.9 L518.0,244.1 L520.0,243.4 L522.0,242.6 L524.0,241.9 L526.0,241.1 L528.0,240.4 L530.0,239.6 L532.0,238.8 L534.0,238.1 L536.0,237.3 L538.0,236.6 L540.0,235.8 L542.0,235.1 L544.0,234.3 L546.0,233.6 L548.0,232.8 L550.0,232.0 L552.0,231.3 L554.0,230.5 L556.0,229.8 L558.0,229.0 L560.0,228.3 L562.0,227.5 L564.0,226.7 L566.0,226.0 L568.0,225.2 L570.0,224.4 L572.0,223.7 L574.0,222.9 L576.0,222.1 L578.0,221.4 L580.0,220.6 L582.0,219.8 L584.0,219.1 L586.0,218.3 L588.0,217.5 L590.0,216.7 L592.0,216.0 L594.0,215.2 L596.0,214.4 L598.0,213.6 L600.0,212.9 L602.0,212.1 L604.0,211.3 L606.0,210.5 L608.0,209.7 L610.0,208.9 L612.0,208.1 L614.0,207.3 L616.0,206.6 L618.0,205.8 L620.0,205.0 L622.0,204.2 L624.0,203.4 L626.0,202.6 L628.0,201.8 L630.0,201.0 L632.0,200.1 L634.0,199.3 L636.0,198.5 L638.0,197.7 L640.0,196.9 L642.0,196.1 L644.0,195.3 L646.0,194.4 L648.0,193.6 L650.0,192.8 L652.0,191.9 L654.0,191.1 L656.0,190.3 L658.0,189.4 L660.0,188.6 L662.0,187.7 L664.0,186.9 L666.0,186.0 L668.0,185.1 L670.0,184.3 L672.0,183.4 L674.0,182.5 L676.0,181.6 L678.0,180.7 L680.0,179.8 L682.0,178.9 L684.0,178.0 L686.0,177.1 L688.0,176.2 L690.0,175.2 L692.0,174.3 L694.0,173.3 L696.0,172.3 L698.0,171.3 L700.0,170.3 L700.5,170.1 L701.0,169.8 L701.5,169.5 L702.0,169.3 L702.5,169.0 L703.0,168.8 L703.5,168.5 L704.0,168.2 L704.5,168.0 L705.0,167.7 L705.5,167.4 L706.0,167.2 L706.5,166.9 L707.0,166.6 L707.5,166.3 L708.0,166.1 L708.5,165.8 L709.0,165.5 L709.5,165.2 L710.0,164.9 L710.5,164.6 L711.0,164.4 L711.5,164.1 L712.0,163.8 L712.5,163.5 L713.0,163.2 L713.5,162.9 L714.0,162.6 L714.5,162.3 L715.0,162.0 L715.5,161.6 L716.0,161.3 L716.5,161.0 L717.0,160.7 L717.5,160.4 L718.0,160.0 L718.5,159.7 L719.0,159.4 L719.5,159.0 L720.0,158.7 L720.5,158.4 L721.0,158.0 L721.5,157.6 L722.0,157.3 L722.5,156.9 L723.0,156.5 L723.5,156.2 L724.0,155.8 L724.5,155.4 L725.0,155.0 L725.5,154.6 L726.0,154.2 L726.5,153.8 L727.0,153.4 L727.5,152.9 L728.0,152.5 L728.5,152.1 L729.0,151.6 L729.5,151.1 L730.0,150.7 L730.5,150.2 L731.0,149.7 L731.5,149.2 L732.0,148.6 L732.5,148.1 L733.0,147.5 L733.5,147.0 L734.0,146.4 L734.5,145.8 L735.0,145.2 L735.5,144.5 L736.0,143.8 L736.5,143.1 L737.0,142.4 L737.5,141.7 L738.0,140.9 L738.5,140.1 L739.0,139.2 L739.5,138.3 L740.0,137.4 L740.5,136.4 L741.0,135.4 L741.5,134.2 L742.0,133.1 L742.5,131.8 L743.0,130.4" stroke="#0000ff" stroke-width="4.0" fill="none" stroke-linejoin="round"/>
<g clip-path="url(#cgold)"><path d="M-148.39,139.79L38.32,513.20M-139.14,139.79L47.57,513.20M-129.89,139.79L56.82,513.20M-120.64,139.79L66.07,513.20M-111.39,139.79L75.32,513.20M-102.14,139.79L84.57,513.20M-92.89,139.79L93.82,513.20M-83.64,139.79L103.07,513.20M-74.39,139.79L112.32,513.20M-65.14,139.79L121.57,513.20M-55.89,139.79L130.82,513.20M-46.64,139.79L140.07,513.20M-37.39,139.79L149.32,513.20M-28.14,139.79L158.57,513.20M-18.89,139.79L167.82,513.20M-9.64,139.79L177.07,513.20M-0.39,139.79L186.32,513.20M8.86,139.79L195.57,513.20M18.11,139.79L204.82,513.20M27.36,139.79L214.07,513.20M36.61,139.79L223.32,513.20M45.86,139.79L232.57,513.20M55.11,139.79L241.82,513.20M64.36,139.79L251.07,513.20M73.61,139.79L260.32,513.20M82.86,139.79L269.57,513.20M92.11,139.79L278.82,513.20M101.36,139.79L288.07,513.20M110.61,139.79L297.32,513.20M119.86,139.79L306.57,513.20M129.11,139.79L315.82,513.20M138.36,139.79L325.07,513.20M147.61,139.79L334.32,513.20M156.86,139.79L343.57,513.20M166.11,139.79L352.82,513.20M175.36,139.79L362.07,513.20M184.61,139.79L371.32,513.20M193.86,139.79L380.57,513.20M203.11,139.79L389.82,513.20M212.36,139.79L399.07,513.20M221.61,139.79L408.32,513.20M230.86,139.79L417.57,513.20M240.11,139.79L426.82,513.20M249.36,139.79L436.07,513.20M258.61,139.79L445.32,513.20M267.86,139.79L454.57,513.20M277.11,139.79L463.82,513.20M286.36,139.79L473.07,513.20M295.61,139.79L482.32,513.20M304.86,139.79L491.57,513.20M314.11,139.79L500.82,513.20M323.36,139.79L510.07,513.20M332.61,139.79L519.32,513.20M341.86,139.79L528.57,513.20M351.11,139.79L537.82,513.20M360.36,139.79L547.07,513.20M369.61,139.79L556.32,513.20M378.86,139.79L565.57,513.20M388.11,139.79L574.82,513.20M397.36,139.79L584.07,513.20M406.61,139.79L593.32,513.20M415.86,139.79L602.57,513.20M425.11,139.79L611.82,513.20M434.36,139.79L621.07,513.20M443.61,139.79L630.32,513.20M452.86,139.79L639.57,513.20M462.11,139.79L648.82,513.20M471.36,139.79L658.07,513.20M480.61,139.79L667.32,513.20M489.86,139.79L676.57,513.20M499.11,139.79L685.82,513.20M508.36,139.79L695.07,513.20M517.61,139.79L704.32,513.20M526.86,139.79L713.57,513.20M536.11,139.79L722.82,513.20M545.36,139.79L732.07,513.20M554.61,139.79L741.32,513.20M563.86,139.79L750.57,513.20M573.11,139.79L759.82,513.20M582.36,139.79L769.07,513.20M591.61,139.79L778.32,513.20M600.86,139.79L787.57,513.20M610.11,139.79L796.82,513.20M619.36,139.79L806.07,513.20M628.61,139.79L815.32,513.20M637.86,139.79L824.57,513.20M647.11,139.79L833.82,513.20M656.36,139.79L843.07,513.20M665.61,139.79L852.32,513.20M674.86,139.79L861.57,513.20M684.11,139.79L870.82,513.20M693.36,139.79L880.07,513.20M702.61,139.79L889.32,513.20M711.86,139.79L898.57,513.20M721.11,139.79L907.82,513.20M730.36,139.79L917.07,513.20M739.61,139.79L926.32,513.20M748.86,139.79L935.57,513.20" stroke="#b8860b" stroke-width="1.95" fill="none"/></g>
<path d="M40.4,492.5 L42.0,490.8 L44.0,488.6 L46.0,486.4 L48.0,484.3 L50.0,482.2 L52.0,480.2 L54.0,478.1 L56.0,476.2 L58.0,474.2 L60.0,472.3 L62.0,470.4 L64.0,468.6 L66.0,466.7 L68.0,465.0 L70.0,463.2 L72.0,461.4 L74.0,459.7 L76.0,458.0 L78.0,456.3 L80.0,454.7 L82.0,453.0 L84.0,451.4 L86.0,449.8 L88.0,448.3 L90.0,446.7 L92.0,445.1 L94.0,443.6 L96.0,442.1 L98.0,440.6 L100.0,439.1 L102.0,437.7 L104.0,436.2 L106.0,434.8 L108.0,433.4 L110.0,432.0 L112.0,430.6 L114.0,429.3 L116.0,427.9 L118.0,426.6 L120.0,425.2 L122.0,423.9 L124.0,422.6 L126.0,421.3 L128.0,420.0 L130.0,418.8 L132.0,417.5 L134.0,416.2 L136.0,415.0 L138.0,413.8 L140.0,412.6 L142.0,411.3 L144.0,410.1 L146.0,408.9 L148.0,407.7 L150.0,406.6 L152.0,405.4 L154.0,404.2 L156.0,403.1 L158.0,401.9 L160.0,400.7 L162.0,399.6 L164.0,398.5 L166.0,397.3 L168.0,396.2 L170.0,395.1 L172.0,394.0 L174.0,392.9 L176.0,391.8 L178.0,390.7 L180.0,389.6 L182.0,388.5 L184.0,387.4 L186.0,386.4 L188.0,385.3 L190.0,384.2 L192.0,383.2 L194.0,382.1 L196.0,381.1 L198.0,380.0 L200.0,379.0 L202.0,378.0 L204.0,376.9 L206.0,375.9 L208.0,374.9 L210.0,373.9 L212.0,372.9 L214.0,371.9 L216.0,370.9 L218.0,369.9 L220.0,368.9 L222.0,367.9 L224.0,366.9 L226.0,365.9 L228.0,365.0 L230.0,364.0 L232.0,363.0 L234.0,362.1 L236.0,361.1 L238.0,360.1 L240.0,359.2 L242.0,358.2 L244.0,357.3 L246.0,356.3 L248.0,355.4 L250.0,354.5 L252.0,353.5 L254.0,352.6 L256.0,351.7 L258.0,350.8 L260.0,349.8 L262.0,348.9 L264.0,348.0 L266.0,347.1 L268.0,346.2 L270.0,345.3 L272.0,344.4 L274.0,343.5 L276.0,342.6 L278.0,341.7 L280.0,340.8 L282.0,339.9 L284.0,339.0 L286.0,338.2 L288.0,337.3 L290.0,336.4 L292.0,335.5 L294.0,334.7 L296.0,333.8 L298.0,332.9 L300.0,332.1 L302.0,331.2 L304.0,330.4 L306.0,329.5 L308.0,328.6 L310.0,327.8 L312.0,326.9 L314.0,326.1 L316.0,325.3 L318.0,324.4 L320.0,323.6 L322.0,322.7 L324.0,321.9 L326.0,321.1 L328.0,320.3 L330.0,319.4 L332.0,318.6 L334.0,317.8 L336.0,317.0 L338.0,316.1 L340.0,315.3 L342.0,314.5 L344.0,313.7 L346.0,312.9 L348.0,312.1 L350.0,311.3 L352.0,310.5 L354.0,309.7 L356.0,308.9 L358.0,308.1 L360.0,307.3 L362.0,306.5 L364.0,305.7 L366.0,304.9 L368.0,304.1 L370.0,303.3 L372.0,302.5 L374.0,301.7 L376.0,301.0 L378.0,300.2 L380.0,299.4 L382.0,298.6 L384.0,297.8 L386.0,297.1 L388.0,296.3 L390.0,295.5 L392.0,294.8 L394.0,294.0 L396.0,293.2 L398.0,292.5 L400.0,291.7 L402.0,290.9 L404.0,290.2 L406.0,289.4 L408.0,288.7 L410.0,287.9 L412.0,287.2 L414.0,286.4 L416.0,285.7 L418.0,284.9 L420.0,284.2 L422.0,283.4 L424.0,282.7 L426.0,281.9 L428.0,281.2 L430.0,280.5 L432.0,279.7 L434.0,279.0 L436.0,278.2 L438.0,277.5 L440.0,276.8 L442.0,276.0 L444.0,275.3 L446.0,274.6 L448.0,273.8 L450.0,273.1 L452.0,272.4 L454.0,271.7 L456.0,270.9 L458.0,270.2 L460.0,269.5 L462.0,268.8 L464.0,268.0 L466.0,267.3 L468.0,266.6 L470.0,265.9 L472.0,265.2 L474.0,264.4 L476.0,263.7 L478.0,263.0 L480.0,262.3 L482.0,261.6 L484.0,260.9 L486.0,260.2 L488.0,259.5 L490.0,258.7 L492.0,258.0 L494.0,257.3 L496.0,256.6 L498.0,255.9 L500.0,255.2 L502.0,254.5 L504.0,253.8 L506.0,253.1 L508.0,252.4 L510.0,251.7 L512.0,251.0 L514.0,250.3 L516.0,249.6 L518.0,248.9 L520.0,248.2 L522.0,247.5 L524.0,246.8 L526.0,246.0 L528.0,245.3 L530.0,244.6 L532.0,243.9 L534.0,243.2 L536.0,242.5 L538.0,241.8 L540.0,241.1 L542.0,240.4 L544.0,239.7 L546.0,239.0 L548.0,238.3 L550.0,237.6 L552.0,236.9 L554.0,236.2 L556.0,235.5 L558.0,234.8 L560.0,234.1 L562.0,233.4 L564.0,232.7 L566.0,232.0 L568.0,231.3 L570.0,230.6 L572.0,229.9 L574.0,229.2 L576.0,228.5 L578.0,227.8 L580.0,227.1 L582.0,226.4 L584.0,225.7 L586.0,225.0 L588.0,224.3 L590.0,223.6 L592.0,222.9 L594.0,222.2 L596.0,221.5 L598.0,220.8 L600.0,220.0 L602.0,219.3 L604.0,218.6 L606.0,217.9 L608.0,217.2 L610.0,216.5 L612.0,215.7 L614.0,215.0 L616.0,214.3 L618.0,213.6 L620.0,212.8 L622.0,212.1 L624.0,211.4 L626.0,210.7 L628.0,209.9 L630.0,209.2 L632.0,208.4 L634.0,207.7 L636.0,207.0 L638.0,206.2 L640.0,205.5 L642.0,204.7 L644.0,204.0 L646.0,203.2 L648.0,202.4 L650.0,201.7 L652.0,200.9 L654.0,200.1 L656.0,199.4 L658.0,198.6 L660.0,197.8 L662.0,197.0 L664.0,196.2 L666.0,195.4 L668.0,194.6 L670.0,193.8 L672.0,192.9 L674.0,192.1 L676.0,191.3 L678.0,190.4 L680.0,189.6 L682.0,188.7 L684.0,187.8 L686.0,187.0 L688.0,186.1 L690.0,185.1 L692.0,184.2 L694.0,183.3 L696.0,182.3 L698.0,181.3 L700.0,180.3 L700.5,180.1 L701.0,179.8 L701.5,179.6 L702.0,179.3 L702.5,179.1 L703.0,178.8 L703.5,178.5 L704.0,178.3 L704.5,178.0 L705.0,177.7 L705.5,177.5 L706.0,177.2 L706.5,176.9 L707.0,176.7 L707.5,176.4 L708.0,176.1 L708.5,175.8 L709.0,175.6 L709.5,175.3 L710.0,175.0 L710.5,174.7 L711.0,174.4 L711.5,174.1 L712.0,173.8 L712.5,173.5 L713.0,173.2 L713.5,172.9 L714.0,172.6 L714.5,172.3 L715.0,172.0 L715.5,171.7 L716.0,171.3 L716.5,171.0 L717.0,170.7 L717.5,170.4 L718.0,170.0 L718.5,169.7 L719.0,169.4 L719.5,169.0 L720.0,168.7 L720.5,168.3 L721.0,168.0 L721.5,167.6 L722.0,167.2 L722.5,166.9 L723.0,166.5 L723.5,166.1 L724.0,165.7 L724.5,165.3 L725.0,164.9 L725.5,164.5 L726.0,164.1 L726.5,163.7 L727.0,163.3 L727.5,162.8 L728.0,162.4 L728.5,161.9 L729.0,161.5 L729.5,161.0 L730.0,160.5 L730.5,160.1 L731.0,159.6 L731.5,159.1 L732.0,158.5 L732.5,158.0 L733.0,157.5 L733.5,156.9 L734.0,156.3 L734.5,155.7 L735.0,155.1 L735.5,154.5 L736.0,153.9 L736.5,153.2 L737.0,152.5 L737.5,151.8 L738.0,151.1 L738.5,150.3 L739.0,149.5 L739.5,148.7 L740.0,147.9 L740.5,147.0 L741.0,146.0 L741.5,145.0 L742.0,144.0 L742.5,142.9 L743.0,141.8" stroke="#b8860b" stroke-width="4.0" fill="none" stroke-linejoin="round"/>
<rect x="40.4" y="16.1" width="702.6" height="497.1" fill="none" stroke="#000" stroke-width="1.6"/>
<clipPath id="kred"><rect x="247.9" y="35.800000000000004" width="68.20000000000002" height="12.599999999999994"/></clipPath>
<g clip-path="url(#kred)"><path d="M247.90,-35.05L316.10,33.15M247.90,-21.98L316.10,46.22M247.90,-8.91L316.10,59.29M247.90,4.16L316.10,72.36M247.90,17.23L316.10,85.43M247.90,30.30L316.10,98.50M247.90,43.37L316.10,111.57M247.90,56.44L316.10,124.64" stroke="#ff0000" stroke-width="2.0" fill="none"/></g>
<rect x="247.9" y="35.80" width="68.20" height="12.60" fill="none" stroke="#ff0000" stroke-width="3.8"/>
<clipPath id="kblue"><rect x="247.9" y="73.9" width="68.20000000000002" height="12.599999999999994"/></clipPath>
<g clip-path="url(#kblue)"><path d="M247.90,65.06L316.10,-3.14M247.90,78.13L316.10,9.93M247.90,91.20L316.10,23.00M247.90,104.27L316.10,36.07M247.90,117.34L316.10,49.14M247.90,130.41L316.10,62.21M247.90,143.48L316.10,75.28M247.90,156.55L316.10,88.35" stroke="#0000ff" stroke-width="2.0" fill="none"/></g>
<rect x="247.9" y="73.90" width="68.20" height="12.60" fill="none" stroke="#0000ff" stroke-width="3.8"/>
<clipPath id="kgold"><rect x="247.9" y="112.10000000000001" width="68.20000000000002" height="12.599999999999994"/></clipPath>
<g clip-path="url(#kgold)"><path d="M239.65,112.10L245.95,124.70M245.05,112.10L251.35,124.70M250.45,112.10L256.75,124.70M255.85,112.10L262.15,124.70M261.25,112.10L267.55,124.70M266.65,112.10L272.95,124.70M272.05,112.10L278.35,124.70M277.45,112.10L283.75,124.70M282.85,112.10L289.15,124.70M288.25,112.10L294.55,124.70M293.65,112.10L299.95,124.70M299.05,112.10L305.35,124.70M304.45,112.10L310.75,124.70M309.85,112.10L316.15,124.70M315.25,112.10L321.55,124.70M320.65,112.10L326.95,124.70" stroke="#b8860b" stroke-width="2.4" fill="none"/></g>
<rect x="247.9" y="112.10" width="68.20" height="12.60" fill="none" stroke="#b8860b" stroke-width="3.8"/>
<rect x="65.1" y="202.6" width="259" height="49.7" fill="#fff" stroke="#444" stroke-width="1"/>
<text transform="translate(57.3,48.4) scale(1.0,1.05)" font-size="25.37"><tspan font-size="25.37" dy="-0.00">m</tspan><tspan font-size="20.30" dy="7.25">A</tspan><tspan font-size="16.24" dy="-9.66">0</tspan><tspan font-size="25.37" dy="2.42"> </tspan><tspan font-size="25.37" dy="2.17">=</tspan><tspan font-size="25.37" dy="-2.17"> 200 GeV</tspan></text>
<text transform="translate(57.3,86.25) scale(1.0,1.05)" font-size="25.37"><tspan font-size="25.37" dy="-0.00">m</tspan><tspan font-size="20.30" dy="7.25">A</tspan><tspan font-size="16.24" dy="-9.66">0</tspan><tspan font-size="25.37" dy="2.42"> </tspan><tspan font-size="25.37" dy="2.17">=</tspan><tspan font-size="25.37" dy="-2.17"> 400 GeV</tspan></text>
<text transform="translate(57.3,124.1) scale(1.0,1.05)" font-size="25.37"><tspan font-size="25.37" dy="-0.00">m</tspan><tspan font-size="20.30" dy="7.25">A</tspan><tspan font-size="16.24" dy="-9.66">0</tspan><tspan font-size="25.37" dy="2.42"> </tspan><tspan font-size="25.37" dy="2.17">=</tspan><tspan font-size="25.37" dy="-2.17"> 600 GeV</tspan></text>
<text transform="translate(20.8,331.8) rotate(-90) scale(1.0,1.05)" font-size="25.37"><tspan font-size="25.37" dy="-0.00">m</tspan><tspan font-size="20.30" dy="7.25">H</tspan><tspan font-size="16.24" dy="-9.66">0</tspan><tspan font-size="25.37" dy="2.42"> in GeV</tspan></text>
<text transform="translate(300.9,561.4) scale(1.0,1.05)" font-size="34.7"><tspan font-size="34.70" dy="-0.00">m</tspan><tspan font-size="27.76" dy="9.91">S</tspan><tspan font-size="22.21" dy="-13.22">0</tspan><tspan font-size="34.70" dy="3.30"> in GeV</tspan></text>
<text transform="translate(84.5,236.5) scale(1.0,1.05)" font-size="28.8"><tspan font-size="28.80" dy="-0.00">m</tspan><tspan font-size="23.04" dy="8.23">12</tspan><tspan font-size="23.04" dy="-21.94">2</tspan><tspan font-size="28.80" dy="13.71"> </tspan><tspan font-size="28.80" dy="2.47">=</tspan><tspan font-size="28.80" dy="-2.47"> 50 GeV</tspan><tspan font-size="23.04" dy="-13.71">2</tspan></text>
<text transform="translate(40.40,540.0) scale(1,1.09)" font-size="28.8" text-anchor="middle" stroke-width="0.15">5</text>
<text transform="translate(102.03,540.0) scale(1,1.09)" font-size="28.8" text-anchor="middle" stroke-width="0.15">10</text>
<text transform="translate(225.29,540.0) scale(1,1.09)" font-size="28.8" text-anchor="middle" stroke-width="0.15">20</text>
<text transform="translate(348.56,540.0) scale(1,1.09)" font-size="28.8" text-anchor="middle" stroke-width="0.15">30</text>
<text transform="translate(471.82,540.0) scale(1,1.09)" font-size="28.8" text-anchor="middle" stroke-width="0.15">40</text>
<text transform="translate(595.08,540.0) scale(1,1.09)" font-size="28.8" text-anchor="middle" stroke-width="0.15">50</text>
<text transform="translate(718.35,540.0) scale(1,1.09)" font-size="28.8" text-anchor="middle" stroke-width="0.15">60</text>
<text transform="translate(752.5,523.60) scale(1,1.09)" font-size="28.8" stroke-width="0.15">200</text>
<text transform="translate(752.5,473.89) scale(1,1.09)" font-size="28.8" stroke-width="0.15">300</text>
<text transform="translate(752.5,424.18) scale(1,1.09)" font-size="28.8" stroke-width="0.15">400</text>
<text transform="translate(752.5,374.47) scale(1,1.09)" font-size="28.8" stroke-width="0.15">500</text>
<text transform="translate(752.5,324.76) scale(1,1.09)" font-size="28.8" stroke-width="0.15">600</text>
<text transform="translate(752.5,275.05) scale(1,1.09)" font-size="28.8" stroke-width="0.15">700</text>
<text transform="translate(752.5,225.34) scale(1,1.09)" font-size="28.8" stroke-width="0.15">800</text>
<text transform="translate(752.5,175.63) scale(1,1.09)" font-size="28.8" stroke-width="0.15">900</text>
<text transform="translate(752.5,125.92) scale(1,1.09)" font-size="28.8" stroke-width="0.15">1000</text>
<text transform="translate(752.5,76.21) scale(1,1.09)" font-size="28.8" stroke-width="0.15">1100</text>
<text transform="translate(752.5,26.50) scale(1,1.09)" font-size="28.8" stroke-width="0.15">1200</text>
</svg></body></html>
